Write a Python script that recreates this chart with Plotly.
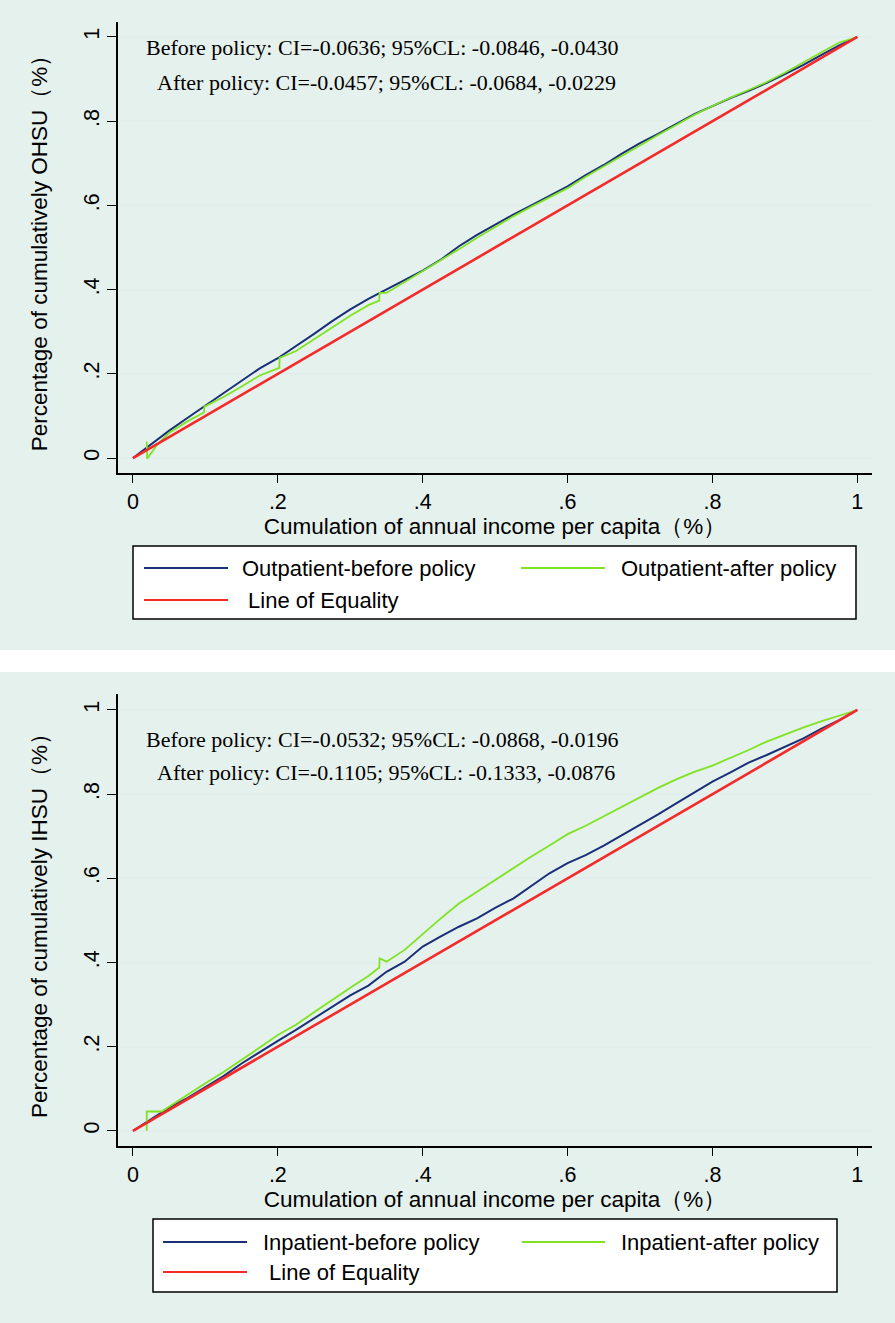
import plotly.graph_objects as go

W, H = 895, 1323

# ---------------- data ----------------
tick_vals = [0, 0.2, 0.4, 0.6, 0.8, 1]
tick_text = ["0", ".2", ".4", ".6", ".8", "1"]

x_grid = [0, 0.025, 0.05, 0.075, 0.1, 0.125, 0.15, 0.175, 0.2, 0.225, 0.25, 0.275, 0.3, 0.325,
          0.35, 0.375, 0.4, 0.425, 0.45, 0.475, 0.5, 0.525, 0.55, 0.575, 0.6, 0.625, 0.65, 0.675,
          0.7, 0.725, 0.75, 0.775, 0.8, 0.825, 0.85, 0.875, 0.9, 0.925, 0.95, 0.975, 1]

# Panel A: outpatient (OHSU)
out_before_y = [0, 0.033, 0.065, 0.095, 0.125, 0.153, 0.183, 0.213, 0.237, 0.265, 0.295, 0.325,
                0.353, 0.378, 0.400, 0.422, 0.445, 0.471, 0.503, 0.530, 0.555, 0.578, 0.600, 0.622,
                0.645, 0.672, 0.696, 0.723, 0.748, 0.770, 0.793, 0.817, 0.836, 0.855, 0.872, 0.891,
                0.912, 0.933, 0.957, 0.980, 1]

out_after_x = [0.019, 0.0195, 0.033, 0.05, 0.075, 0.098, 0.0985, 0.125, 0.15, 0.175, 0.202, 0.2025,
               0.225, 0.25, 0.275, 0.3, 0.325, 0.34, 0.3405, 0.35, 0.375, 0.4, 0.425, 0.45, 0.475,
               0.5, 0.525, 0.55, 0.575, 0.6, 0.625, 0.65, 0.675, 0.7, 0.725, 0.75, 0.775, 0.8,
               0.825, 0.85, 0.875, 0.9, 0.925, 0.95, 0.975, 1]
out_after_y = [0.039, -0.002, 0.031, 0.060, 0.087, 0.108, 0.122, 0.145, 0.170, 0.196, 0.214, 0.238,
               0.254, 0.283, 0.310, 0.338, 0.363, 0.374, 0.392, 0.392, 0.418, 0.442, 0.470, 0.496,
               0.523, 0.549, 0.574, 0.597, 0.620, 0.641, 0.668, 0.693, 0.719, 0.743, 0.767, 0.791,
               0.815, 0.836, 0.856, 0.874, 0.893, 0.915, 0.938, 0.963, 0.987, 1]

# Panel B: inpatient (IHSU)
in_before_y = [0, 0.028, 0.055, 0.078, 0.105, 0.130, 0.160, 0.188, 0.214, 0.240, 0.268, 0.294,
               0.322, 0.345, 0.378, 0.402, 0.438, 0.462, 0.485, 0.505, 0.530, 0.552, 0.582, 0.612,
               0.636, 0.655, 0.678, 0.702, 0.728, 0.752, 0.778, 0.805, 0.830, 0.852, 0.875, 0.893,
               0.913, 0.932, 0.955, 0.976, 1]

in_after_x = [0.019, 0.019, 0.0395, 0.05, 0.075, 0.1, 0.125, 0.15, 0.175, 0.2, 0.225, 0.25, 0.275,
              0.3, 0.325, 0.34, 0.3405, 0.35, 0.375, 0.4, 0.425, 0.45, 0.475, 0.5, 0.525, 0.55,
              0.575, 0.6, 0.625, 0.65, 0.675, 0.7, 0.725, 0.75, 0.775, 0.8, 0.825, 0.85, 0.875,
              0.9, 0.925, 0.95, 0.975, 1]
in_after_y = [0, 0.046, 0.046, 0.058, 0.085, 0.113, 0.140, 0.168, 0.198, 0.228, 0.252, 0.282,
              0.312, 0.340, 0.368, 0.388, 0.410, 0.402, 0.430, 0.468, 0.505, 0.540, 0.568, 0.598,
              0.625, 0.652, 0.678, 0.705, 0.725, 0.748, 0.770, 0.792, 0.815, 0.835, 0.853, 0.868,
              0.886, 0.905, 0.925, 0.942, 0.958, 0.973, 0.987, 1]

equality_x = [0, 1]
equality_y = [0, 1]

labels_top = ["Outpatient-before policy", "Outpatient-after policy", " Line of Equality"]
labels_bot = ["Inpatient-before policy", "Inpatient-after policy", " Line of Equality"]
ci_top = ["Before policy: CI=-0.0636; 95%CL: -0.0846, -0.0430",
          "After policy: CI=-0.0457; 95%CL: -0.0684, -0.0229"]
ci_bot = ["Before policy: CI=-0.0532; 95%CL: -0.0868, -0.0196",
          "After policy: CI=-0.1105; 95%CL: -0.1333, -0.0876"]
ytitle_top = "Percentage of cumulatively OHSU（%）"
ytitle_bot = "Percentage of cumulatively IHSU（%）"
xtitle = "Cumulation of annual income per capita（%）"

# ---------------- style ----------------
NAVY = "#1b2f78"
LIME = "#7fe321"
RED = "#f42a2a"
BG = "#e5f1ed"
GRID = "#e2eeeb"
SANS = "Liberation Sans, Arial, sans-serif"
SERIF = "Liberation Serif, Times New Roman, serif"
TITLE_SIZE = 22.5
TICK_SIZE = 21.5
LEG_SIZE = 22


def px(x):
    return x / W


def py(y):
    return 1 - y / H


fig = go.Figure()

panels = [
    dict(xa="x", ya="y", before_y=out_before_y, after_x=out_after_x, after_y=out_after_y),
    dict(xa="x2", ya="y2", before_y=in_before_y, after_x=in_after_x, after_y=in_after_y),
]
for p in panels:
    fig.add_trace(go.Scatter(x=x_grid, y=p["before_y"], mode="lines", xaxis=p["xa"], yaxis=p["ya"],
                             line=dict(color=NAVY, width=2), showlegend=False, hoverinfo="skip"))
    fig.add_trace(go.Scatter(x=p["after_x"], y=p["after_y"], mode="lines", xaxis=p["xa"], yaxis=p["ya"],
                             line=dict(color=LIME, width=1.8), showlegend=False, hoverinfo="skip"))
    fig.add_trace(go.Scatter(x=equality_x, y=equality_y, mode="lines", xaxis=p["xa"], yaxis=p["ya"],
                             line=dict(color=RED, width=2.6), showlegend=False, hoverinfo="skip"))

xdom = [px(118), px(872)]
xaxis_common = dict(range=[-0.0207, 1.0203], tickvals=tick_vals, ticktext=tick_text,
                    showline=True, linecolor="black", linewidth=1.5, mirror=False,
                    ticks="outside", ticklen=8, tickwidth=1.3, tickcolor="black",
                    showgrid=False, zeroline=False,
                    tickfont=dict(family=SANS, size=TICK_SIZE, color="black"),
                    title=dict(text=xtitle, font=dict(family=SANS, size=TITLE_SIZE, color="black"),
                               standoff=1))
yaxis_common = dict(tickvals=tick_vals, ticktext=tick_text, tickangle=-90,
                    showline=True, linecolor="black", linewidth=1.5, mirror=False,
                    ticks="outside", ticklen=9, tickwidth=1.3, tickcolor="black",
                    showgrid=True, gridcolor=GRID, gridwidth=1.5, zeroline=False,
                    tickfont=dict(family=SANS, size=TICK_SIZE, color="black"))

fig.update_layout(
    width=W, height=H,
    margin=dict(l=0, r=0, t=0, b=0),
    paper_bgcolor="white", plot_bgcolor="white",
    xaxis=dict(domain=xdom, anchor="y", **xaxis_common),
    yaxis=dict(domain=[py(473), py(22)], anchor="x", range=[-0.0356, 1.0356],
               title=dict(text=ytitle_top, font=dict(family=SANS, size=TITLE_SIZE, color="black"),
                          standoff=26),
               **yaxis_common),
    xaxis2=dict(domain=xdom, anchor="y2", **xaxis_common),
    yaxis2=dict(domain=[py(1146), py(694)], anchor="x2", range=[-0.036, 1.038],
                title=dict(text=ytitle_bot, font=dict(family=SANS, size=TITLE_SIZE, color="black"),
                           standoff=26),
                **yaxis_common),
)

shapes = []
annotations = []
# panel backgrounds
for (y0, y1) in [(0, 650), (672, 1323)]:
    shapes.append(dict(type="rect", xref="paper", yref="paper", x0=0, x1=1, y0=py(y1), y1=py(y0),
                       fillcolor=BG, line=dict(width=0), layer="below"))

# CI annotations
for texts, ys in [(ci_top, (48, 82)), (ci_bot, (739, 772))]:
    for t, yy, xx in zip(texts, ys, (144, 155)):
        annotations.append(dict(text=t, xref="paper", yref="paper", x=px(xx), y=py(yy),
                                xanchor="left", yanchor="middle", showarrow=False,
                                font=dict(family=SERIF, size=22, color="black")))

# legends (drawn as boxes with sample lines and labels)
legend_specs = [
    dict(box=(133, 856, 546, 619), rows=(568, 600), lines=[(144, 228), (521, 605), (144, 228)],
         texts=[240, 619, 240], labels=labels_top),
    dict(box=(153, 837, 1219, 1292), rows=(1242, 1272), lines=[(163, 247), (522, 605), (163, 247)],
         texts=[261, 619, 261], labels=labels_bot),
]
colors = [NAVY, LIME, RED]
widths = [2, 2, 2]
for spec in legend_specs:
    x0, x1, y0, y1 = spec["box"]
    shapes.append(dict(type="rect", xref="paper", yref="paper", x0=px(x0), x1=px(x1), y0=py(y1), y1=py(y0),
                       fillcolor="white", line=dict(color="black", width=1.5), layer="above"))
    row_y = [spec["rows"][0], spec["rows"][0], spec["rows"][1]]
    for i in range(3):
        lx0, lx1 = spec["lines"][i]
        shapes.append(dict(type="line", xref="paper", yref="paper", x0=px(lx0), x1=px(lx1),
                           y0=py(row_y[i]), y1=py(row_y[i]), line=dict(color=colors[i], width=widths[i]),
                           layer="above"))
        annotations.append(dict(text=spec["labels"][i], xref="paper", yref="paper",
                                x=px(spec["texts"][i]), y=py(row_y[i]), xanchor="left", yanchor="middle",
                                showarrow=False, font=dict(family=SANS, size=LEG_SIZE, color="black")))

fig.update_layout(shapes=shapes, annotations=annotations)
fig.write_html("out.html", config={"displayModeBar": False},
               post_script="document.body.style.margin='0';")
